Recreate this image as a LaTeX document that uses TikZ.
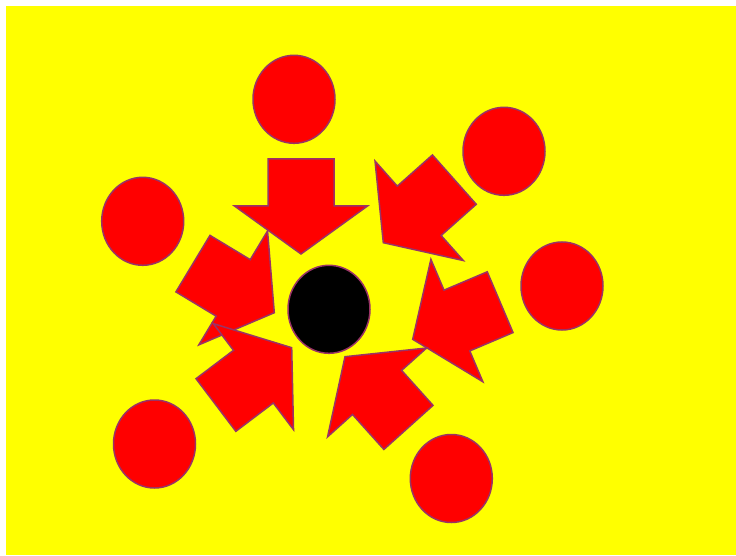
\documentclass[tikz,border=0pt]{standalone}
\usepackage{xcolor}
\usepackage{tikz}
\usetikzlibrary{shapes.geometric}
\definecolor{Sun}{HTML}{FFFF00}
\definecolor{Ruby}{HTML}{FF0000}
\definecolor{Plum}{HTML}{993366}

\begin{document}
\begin{tikzpicture}[x=1pt,y=1pt,
    ball/.style={ellipse,draw=Plum,fill=Ruby,line width=1.5pt,
      minimum width=82pt,minimum height=88pt,inner sep=0pt},
    hub/.style={ball,fill=black},
    blockarrow/.style={draw=Plum,fill=Ruby,line width=1.5pt,line join=miter}]
  \useasboundingbox (0,0) rectangle (736,555);
  \fill[Sun] (6,0) rectangle (736,549);
  % outer ring
  \node[ball] (top) at (294,455.7) {};
  \node[ball] (topright) at (504,403.7) {};
  \node[ball] (left) at (142.7,333.7) {};
  \node[ball] (right) at (562,269) {};
  \node[ball] (botleft) at (154.5,111) {};
  \node[ball] (botright) at (451.3,76.5) {};
  \node[hub] (hub) at (329,245.7) {};
  % arrows, tip at origin pointing along +x
  \foreach \tx/\ty/\ang in {301/301/-90, 383.3/312.3/-138.4, 412.7/215.7/-157,
      345/198.3/131.9, 274.3/242.3/-31.1, 291.7/207.3/37.1}
    \draw[blockarrow,shift={(\tx,\ty)},rotate=\ang] (0,0) -- (-48,66.5)
      -- (-48,33) -- (-95,33) -- (-95,-33) -- (-48,-33) -- (-48,-66.5) -- cycle;
\end{tikzpicture}
\end{document}
